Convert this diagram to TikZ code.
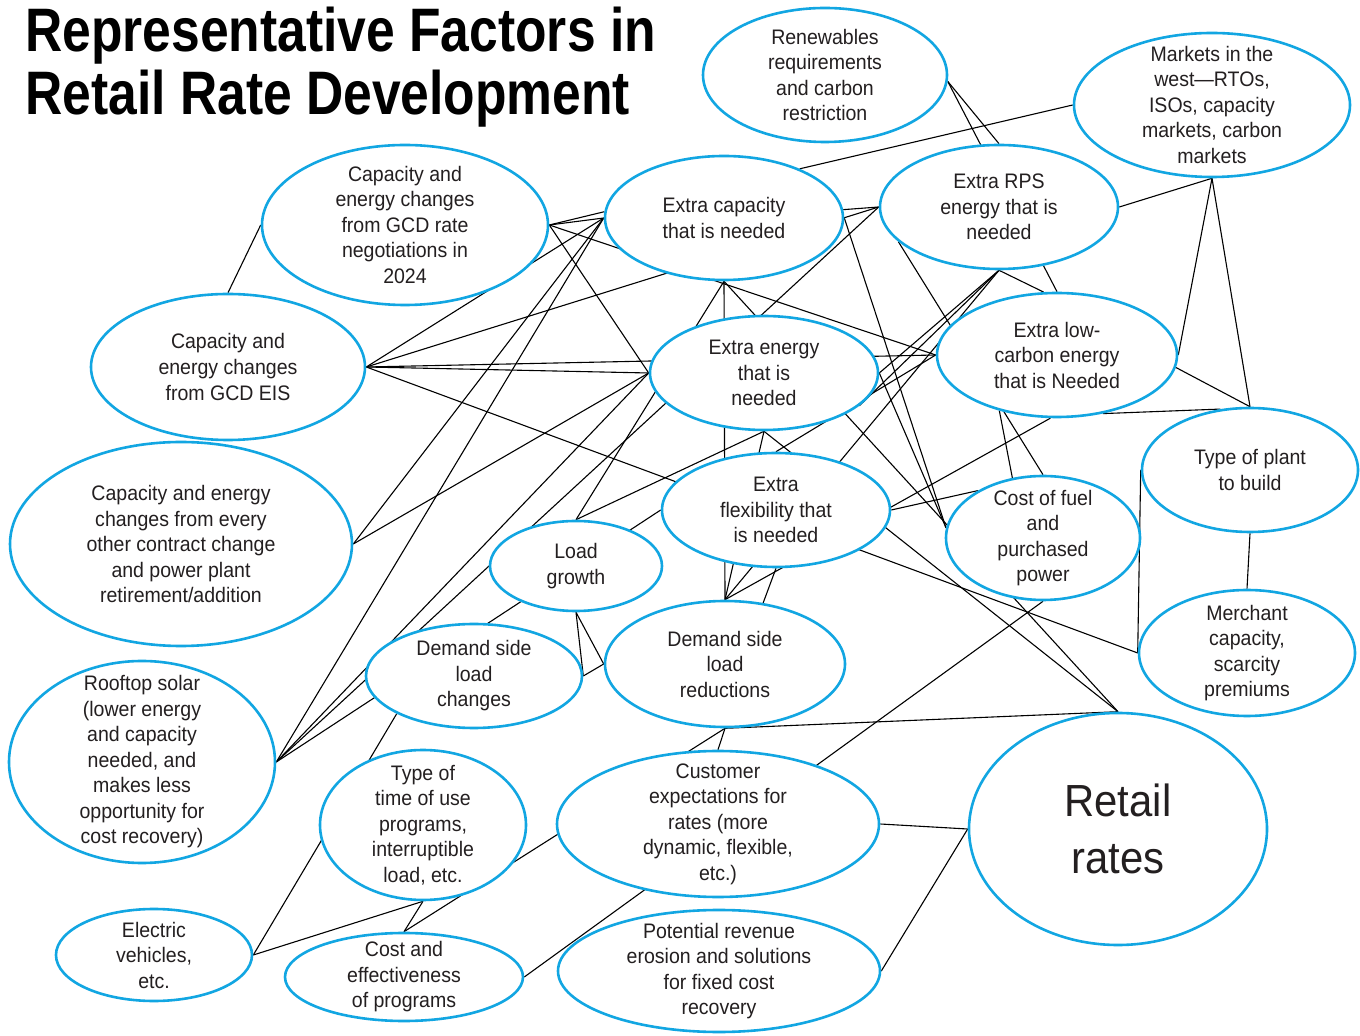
\documentclass[tikz,border=0pt]{standalone}
\usepackage{fontspec}
\setmainfont[FakeStretch=0.93]{Liberation Sans}
\newfontfamily\titlefont[FakeStretch=0.84]{Liberation Sans}
\usetikzlibrary{shapes.geometric, backgrounds}
\definecolor{ringblue}{RGB}{18,166,226}
\definecolor{inkgray}{RGB}{35,31,32}
\tikzset{
  factor/.style={ellipse, draw=ringblue, line width=1.3pt, fill=white, inner sep=0pt},
  factxt/.style={align=center, text=inkgray, font=\fontsize{10.5}{12.75}\selectfont},
  link/.style={draw=black, line width=0.55pt},
}
\begin{document}
\begin{tikzpicture}[x=0.5pt, y=-0.5pt]
    \useasboundingbox (0,0) rectangle (1360,1036);
    \node[anchor=base west, inner sep=0pt, font=\titlefont\bfseries\fontsize{30.7}{31.5}\selectfont] (title1) at (25,52) {Representative Factors in};
    \node[anchor=base west, inner sep=0pt, font=\titlefont\bfseries\fontsize{30.7}{31.5}\selectfont] (title2) at (25,115) {Retail Rate Development};
    % ellipses, size = pixel radii
    \node[factor, minimum width=122pt, minimum height=67pt] (ren) at (825,75) {};
    \node[factor, minimum width=138pt, minimum height=72pt] (mkt) at (1212,105) {};
    \node[factor, minimum width=143pt, minimum height=80pt] (gcdr) at (405,225) {};
    \node[factor, minimum width=119pt, minimum height=62pt] (xcap) at (724,218) {};
    \node[factor, minimum width=119pt, minimum height=62pt] (xrps) at (999,207) {};
    \node[factor, minimum width=137pt, minimum height=73pt] (eis) at (228,367) {};
    \node[factor, minimum width=114pt, minimum height=57pt] (xen) at (764,373) {};
    \node[factor, minimum width=120pt, minimum height=62pt] (xlow) at (1057,355) {};
    \node[factor, minimum width=108pt, minimum height=62pt] (plant) at (1250,470) {};
    \node[factor, minimum width=171pt, minimum height=102pt] (other) at (181,544) {};
    \node[factor, minimum width=114pt, minimum height=57pt] (xflex) at (776,510) {};
    \node[factor, minimum width=97pt, minimum height=62pt] (fuel) at (1043,538) {};
    \node[factor, minimum width=86pt, minimum height=45pt] (load) at (576,566) {};
    \node[factor, minimum width=120pt, minimum height=63pt] (dslr) at (725,664) {};
    \node[factor, minimum width=108pt, minimum height=52pt] (dslc) at (474,676) {};
    \node[factor, minimum width=108pt, minimum height=63pt] (merch) at (1247,653) {};
    \node[factor, minimum width=133pt, minimum height=101pt] (roof) at (142,762) {};
    \node[factor, minimum width=103pt, minimum height=75pt] (tou) at (423,825) {};
    \node[factor, minimum width=161pt, minimum height=73pt] (cust) at (718,824) {};
    \node[factor, minimum width=149pt, minimum height=116pt] (retail) at (1118,829) {};
    \node[factor, minimum width=98pt, minimum height=46pt] (ev) at (154,955) {};
    \node[factor, minimum width=119pt, minimum height=44pt] (costp) at (404,977) {};
    \node[factor, minimum width=161pt, minimum height=61pt] (rev) at (719,971) {};
    % texts
    \node[factxt] (renT) at (ren) {Renewables\\requirements\\and carbon\\restriction};
    \node[factxt] (mktT) at (mkt) {Markets in the\\west—RTOs,\\ISOs, capacity\\markets, carbon\\markets};
    \node[factxt] (gcdrT) at (gcdr) {Capacity and\\energy changes\\from GCD rate\\negotiations in\\2024};
    \node[factxt] (xcapT) at (xcap) {Extra capacity\\that is needed};
    \node[factxt] (xrpsT) at (xrps) {Extra RPS\\energy that is\\needed};
    \node[factxt] (eisT) at (eis) {Capacity and\\energy changes\\from GCD EIS};
    \node[factxt] (xenT) at (xen) {Extra energy\\that is\\needed};
    \node[factxt] (xlowT) at (xlow) {Extra low-\\carbon energy\\that is Needed};
    \node[factxt] (plantT) at (plant) {Type of plant\\to build};
    \node[factxt] (otherT) at (other) {Capacity and energy\\changes from every\\other contract change\\and power plant\\retirement/addition};
    \node[factxt] (xflexT) at (xflex) {Extra\\flexibility that\\is needed};
    \node[factxt] (fuelT) at (fuel) {Cost of fuel\\and\\purchased\\power};
    \node[factxt] (loadT) at (load) {Load\\growth};
    \node[factxt] (dslrT) at (dslr) {Demand side\\load\\reductions};
    \node[factxt] (dslcT) at (dslc) {Demand side\\load\\changes};
    \node[factxt] (merchT) at (merch) {Merchant\\capacity,\\scarcity\\premiums};
    \node[factxt] (roofT) at (roof) {Rooftop solar\\(lower energy\\and capacity\\needed, and\\makes less\\opportunity for\\cost recovery)};
    \node[factxt] (touT) at (tou) {Type of\\time of use\\programs,\\interruptible\\load, etc.};
    \node[factxt] (custT) at (cust) {Customer\\expectations for\\rates (more\\dynamic, flexible,\\etc.)};
    \node[factxt, font=\fontsize{22.5}{28.5}\selectfont] (retailT) at (retail) {Retail\\rates};
    \node[factxt] (evT) at (ev) {Electric\\vehicles,\\etc.};
    \node[factxt] (costpT) at (costp) {Cost and\\effectiveness\\of programs};
    \node[factxt] (revT) at (rev) {Potential revenue\\erosion and solutions\\for fixed cost\\recovery};
    % links run behind the filled ellipses
    \begin{pgfonlayer}{background}
    \fill[white] (0,0) rectangle (1360,1036);
    \draw[link] (gcdr.west) -- (eis.north);
    \draw[link] (gcdr.east) -- (xcap.177);
    \draw[link] (gcdr.east) -- (xcap.west);
    \draw[link] (gcdr.east) -- (xlow.west);
    \draw[link] (gcdr.east) -- (xen.west);
    \draw[link] (eis.east) -- (xcap.west);
    \draw[link] (eis.east) -- (xrps.west);
    \draw[link] (eis.east) -- (xlow.west);
    \draw[link] (eis.east) -- (xen.west);
    \draw[link] (eis.east) -- (merch.west);
    \draw[link] (other.east) -- (xcap.west);
    \draw[link] (other.east) -- (xen.west);
    \draw[link] (roof.east) -- (xcap.west);
    \draw[link] (roof.east) -- (xen.west);
    \draw[link] (roof.east) -- (xrps.west);
    \draw[link] (roof.east) -- (xflex.west);
    \draw[link] (load.north) -- (xcap.south);
    \draw[link] (load.north) -- (xen.south);
    \draw[link] (load.south) -- (dslc.east);
    \draw[link] (load.south) -- (dslr.west);
    \draw[link] (dslc.east) -- (dslr.west);
    \draw[link] (xcap.south) -- (dslr.north);
    \draw[link] (xcap.south) -- (retail.north);
    \draw[link] (xen.south) -- (dslr.north);
    \draw[link] (xen.south) -- (retail.north);
    \draw[link] (xen.east) -- (fuel.174);
    \draw[link] (xcap.east) -- (fuel.174);
    \draw[link] (xcap.4) -- (xrps.west);
    \draw[link] (xcap.33) -- (mkt.west);
    \draw[link] (ren.357) -- (xrps.north);
    \draw[link] (ren.357) -- (xlow.north);
    \draw[link] (xrps.east) -- (mkt.south);
    \draw[link] (mkt.south) -- (xlow.east);
    \draw[link] (mkt.south) -- (plant.north);
    \draw[link] (xlow.354) -- (plant.north);
    \draw[link] (xlow.308) -- (plant.116);
    \draw[link] (xrps.south) -- (xen.east);
    \draw[link] (xrps.south) -- (xen.341);
    \draw[link] (xrps.south) -- (dslr.north);
    \draw[link] (xrps.south) -- (xlow.102);
    \draw[link] (xrps.199) -- (fuel.north);
    \draw[link] (xlow.224) -- (fuel.117);
    \draw[link] (dslr.north) -- (xlow.264);
    \draw[link] (xflex.east) -- (fuel.144);
    \draw[link] (xflex.north) -- (xlow.west);
    \draw[link] (xflex.south) -- (dslr.58);
    \draw[link] (plant.west) -- (merch.west);
    \draw[link] (plant.south) -- (merch.north);
    \draw[link] (dslr.south) -- (retail.north);
    \draw[link] (dslr.south) -- (cust.north);
    \draw[link] (dslr.south) -- (costp.north);
    \draw[link] (costp.east) -- (fuel.south);
    \draw[link] (cust.east) -- (retail.west);
    \draw[link] (rev.east) -- (retail.west);
    \draw[link] (tou.south) -- (costp.north);
    \draw[link] (tou.south) -- (ev.east);
    \draw[link] (ev.east) -- (dslc.206);
    \end{pgfonlayer}
\end{tikzpicture}
\end{document}
